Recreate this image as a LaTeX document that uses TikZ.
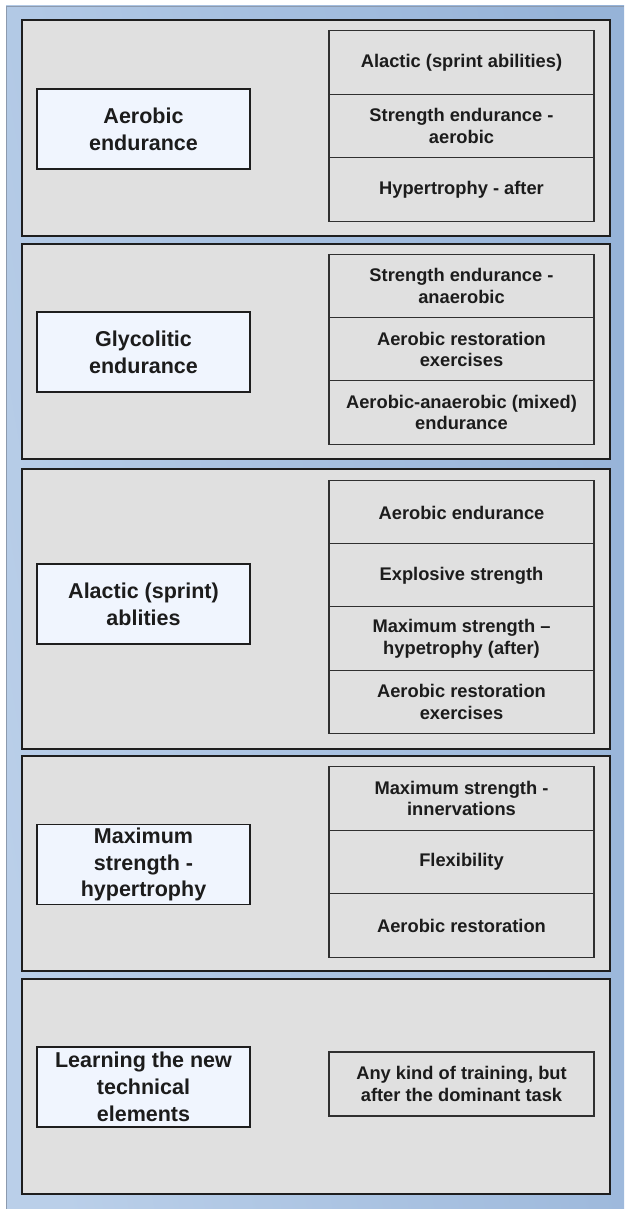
\documentclass[tikz,border=0pt]{standalone}
\usepackage{fontspec}
\setmainfont{Liberation Sans}

\definecolor{frameLight}{HTML}{BACFE9}
\definecolor{frameDark}{HTML}{96B3D8}
\definecolor{frameEdge}{HTML}{8C9AAE}
\definecolor{panelFill}{HTML}{E0E0E0}
\definecolor{panelEdge}{HTML}{1E1E1E}
\definecolor{taskFill}{HTML}{F0F5FE}
\definecolor{cellEdge}{HTML}{303030}
\definecolor{inkText}{HTML}{1C1C1C}

\begin{document}
\begin{tikzpicture}[x=1pt,y=-1pt,
  panel/.style={draw=panelEdge, fill=panelFill, line width=1.8pt,
    minimum width=588pt, inner sep=0pt},
  task/.style={draw=panelEdge, fill=taskFill, line width=1.7pt,
    minimum width=213pt, minimum height=80pt, inner sep=0pt,
    align=center, text=inkText,
    font=\fontsize{21.5}{26.8}\selectfont\bfseries},
  cell/.style={draw=cellEdge, fill=panelFill, line width=1.1pt,
    minimum width=265pt, minimum height=63.5pt, inner sep=0pt,
    align=center, text=inkText,
    font=\fontsize{18.3}{21.7}\selectfont\bfseries}]

\useasboundingbox (0,0) rectangle (624,1209);

% blue backdrop
\shade[left color=frameLight, right color=frameDark, shading angle=100]
  (6,6) rectangle (624,1209);
\draw[frameEdge, line width=0.8pt] (6,1209) -- (6,6) -- (624,6);

% grey bands
\node[panel, minimum height=216pt] (p1) at (316,128)   {};
\node[panel, minimum height=215pt] (p2) at (316,351.5) {};
\node[panel, minimum height=280pt] (p3) at (316,609)   {};
\node[panel, minimum height=215pt] (p4) at (316,863.5) {};
\node[panel, minimum height=215pt] (p5) at (316,1086.5){};

% dominant tasks
\node[task] (t1) at (143.5,129)   {Aerobic\\endurance};
\node[task] (t2) at (143.5,352)   {Glycolitic\\endurance};
\node[task] (t3) at (143.5,604)   {Alactic (sprint)\\ablities};
\node[task] (t4) at (143.5,864.5) {Maximum\\strength -\\hypertrophy};
\node[task] (t5) at (143.5,1087)  {Learning the new\\technical\\elements};

% accompanying work, band 1
\node[cell] (a1) at (461.5,62.5)  {Alactic (sprint abilities)};
\node[cell] (a2) at (461.5,126)   {Strength endurance -\\aerobic};
\node[cell] (a3) at (461.5,189.5) {Hypertrophy - after};

% band 2
\node[cell] (b1) at (461.5,286)   {Strength endurance -\\anaerobic};
\node[cell] (b2) at (461.5,349.5) {Aerobic restoration\\exercises};
\node[cell] (b3) at (461.5,412.5) {Aerobic-anaerobic (mixed)\\endurance};

% band 3
\node[cell] (c1) at (461.5,512.5) {Aerobic endurance};
\node[cell] (c2) at (461.5,575.5) {Explosive strength};
\node[cell] (c3) at (461.5,638.5) {Maximum strength –\\hypetrophy (after)};
\node[cell] (c4) at (461.5,702)   {Aerobic restoration\\exercises};

% band 4
\node[cell] (d1) at (461.5,798.5) {Maximum strength -\\innervations};
\node[cell] (d2) at (461.5,862)   {Flexibility};
\node[cell] (d3) at (461.5,925.5) {Aerobic restoration};

% band 5
\node[cell, minimum height=64pt] (e1) at (461.5,1084)
  {Any kind of training, but\\after the dominant task};
\end{tikzpicture}
\end{document}
